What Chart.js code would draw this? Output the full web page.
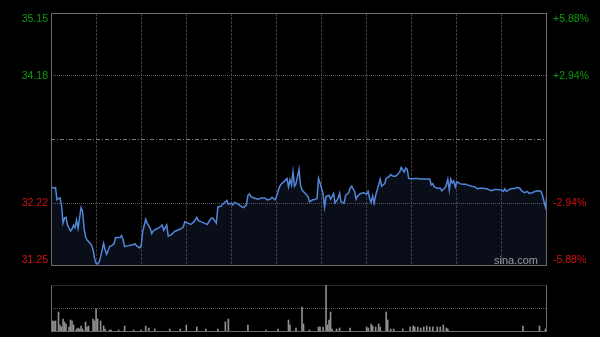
<!DOCTYPE html>
<html><head><meta charset="utf-8">
<script src="https://cdn.jsdelivr.net/npm/chart.js@4.4.1/dist/chart.umd.min.js"></script>
<style>
html,body{margin:0;padding:0;background:#000;width:600px;height:337px;overflow:hidden}
#wrapA{position:absolute;left:0;top:0;width:600px;height:272px}
#wrapB{position:absolute;left:0;top:280px;width:600px;height:57px}
</style></head><body>
<div id="wrapA"><canvas id="price"></canvas></div>
<div id="wrapB"><canvas id="vol"></canvas></div>
<script>
// ---- data (minutes since open, HK session 330 minutes) ----
const priceMinutes = [0,2,3,4,5,6,7,8,9,10,11,13,14,15,16,17,18,19,20,21,22,23,24,26,27,28,29,30,31,32,33,35,36,37,39,41,42,43,46,47,48,49,51,53,56,57,59,60,61,63,64,66,67,68,70,72,74,75,77,78,80,82,83,86,88,89,91,93,95,97,98,100,102,104,106,107,108,110,111,113,115,117,118,120,121,122,124,127,128,130,131,132,133,136,138,140,142,144,146,147,149,150,152,153,155,157,158,159,160,161,162,163,165,166,167,169,171,172,174,175,177,178,179,181,182,183,185,186,188,189,191,192,193,195,196,198,199,200,202,203,204,206,208,210,211,212,213,214,215,216,218,219,220,222,223,225,226,227,229,230,232,233,234,235,236,237,238,240,242,244,246,249,252,253,254,255,257,259,260,262,263,264,265,266,267,268,269,270,272,274,276,277,280,282,284,285,287,290,292,293,295,297,300,301,302,303,305,306,309,310,312,313,315,317,318,320,322,324,326,327,328,329,330];
const prices = [32.47,32.45,32.46,32.27,32.29,32.30,32.19,31.91,31.99,32.00,31.88,31.79,31.82,31.88,31.84,31.96,31.83,31.99,32.15,32.09,31.83,31.70,31.65,31.60,31.57,31.50,31.37,31.29,31.28,31.31,31.39,31.60,31.50,31.43,31.55,31.57,31.60,31.69,31.69,31.72,31.65,31.55,31.56,31.57,31.59,31.56,31.53,31.57,31.78,31.97,31.91,31.83,31.75,31.79,31.82,31.84,31.88,31.80,31.88,31.71,31.73,31.78,31.79,31.82,31.85,31.93,31.91,31.89,31.93,32.00,31.95,31.93,31.91,31.89,31.97,31.99,31.98,31.91,32.16,32.17,32.22,32.26,32.20,32.22,32.19,32.23,32.21,32.16,32.15,32.19,32.34,32.36,32.32,32.29,32.28,32.30,32.30,32.27,32.28,32.31,32.27,32.32,32.47,32.51,32.55,32.60,32.47,32.58,32.50,32.70,32.48,32.52,32.74,32.50,32.42,32.37,32.32,32.24,32.27,32.27,32.29,32.60,32.53,32.37,32.16,32.32,32.34,32.28,32.37,32.22,32.29,32.37,32.24,32.22,32.34,32.38,32.45,32.48,32.40,32.28,32.33,32.37,32.38,32.36,32.40,32.29,32.23,32.33,32.22,32.34,32.50,32.59,32.48,32.52,32.60,32.63,32.66,32.64,32.63,32.65,32.70,32.77,32.73,32.70,32.76,32.74,32.60,32.59,32.60,32.60,32.59,32.59,32.59,32.50,32.52,32.47,32.45,32.45,32.41,32.45,32.50,32.59,32.42,32.59,32.53,32.56,32.47,32.55,32.52,32.51,32.51,32.50,32.48,32.47,32.44,32.45,32.45,32.44,32.42,32.41,32.43,32.43,32.42,32.40,32.44,32.40,32.43,32.44,32.45,32.46,32.45,32.41,32.38,32.40,32.37,32.38,32.40,32.41,32.40,32.34,32.24,32.16,32.37];
const volMinutes = [1,2,3,5,6,7,8,9,10,12,13,14,15,17,18,19,20,21,23,24,25,28,29,30,31,33,35,36,39,40,45,49,55,60,63,65,69,79,86,90,97,103,111,116,118,131,143,151,158,159,163,167,168,172,178,179,181,183,184,185,186,187,190,192,199,210,211,213,214,216,218,219,223,224,226,228,234,239,241,242,244,246,248,250,252,254,257,259,261,263,264,314,325,329,330];
const volumes = [110,110,110,200,70,50,130,100,80,50,120,110,70,30,40,30,60,30,100,50,60,130,110,230,130,110,60,30,20,20,20,60,20,20,60,40,30,30,30,70,50,30,30,100,130,70,20,30,120,70,40,250,80,20,50,50,50,470,70,120,200,30,30,40,40,50,40,80,60,50,80,50,200,120,30,30,30,50,60,50,50,40,50,60,50,50,50,50,70,40,30,60,60,30,20];
const prevClose = 33.20;
const yMin = 31.25, yMax = 35.15;
const priceTicks = [35.15, 34.18, 33.20, 32.22, 31.25];
const leftLabels = ['35.15','34.18','','32.22','31.25'];
const rightLabels = ['+5.88%','+2.94%','','-2.94%','-5.88%'];
const totalMinutes = 330, gridStep = 30;

const GREEN = '#0a9a0a', RED = '#d01010';
const FONT = {family: 'Arial, "Liberation Sans", sans-serif', size: 10.5};

function setTicks(scale){
  // keep the outer labels inside the frame (6px inset), like the original
  const px = (yMax - yMin) / 253;
  scale.ticks = priceTicks.map((v,i) => ({value: i===0 ? v - 6*px : (i===priceTicks.length-1 ? v + 6*px : v)}));
}
const tickColor = ctx => ctx.index < 2 ? GREEN : RED;
const gridColor = ctx => (ctx.index === 1 || ctx.index === 3) ? '#5a5a5a' : 'rgba(0,0,0,0)';
function fitY(w){ return s => { s.width = w; s.paddingTop = 0; s.paddingBottom = 0; }; }

const framePlugin = {
  id: 'frame',
  beforeDatasetsDraw(chart){
    const {ctx, chartArea: a, scales} = chart;
    const y = Math.round(scales.y.getPixelForValue(prevClose)) + 0.5;
    ctx.save();
    ctx.strokeStyle = '#7a7a7a'; ctx.lineWidth = 1; ctx.setLineDash([4,2,1,2]);
    ctx.beginPath(); ctx.moveTo(a.left, y); ctx.lineTo(a.right, y); ctx.stroke();
    ctx.restore();
  },
  afterDraw(chart){
    const {ctx, chartArea: a} = chart;
    ctx.save();
    ctx.strokeStyle = '#6a6a6a'; ctx.lineWidth = 1;
    ctx.strokeRect(Math.round(a.left)+0.5, Math.round(a.top)+0.5, Math.round(a.right-a.left)-1, Math.round(a.bottom-a.top)-1);
    ctx.fillStyle = '#9a9a9a'; ctx.font = '11px Arial, "Liberation Sans", sans-serif';
    ctx.textAlign = 'right'; ctx.textBaseline = 'alphabetic';
    ctx.fillText('sina.com', a.right - 9, a.bottom - 2);
    ctx.restore();
  }
};

new Chart(document.getElementById('price'), {
  type: 'line',
  data: {datasets: [{
    data: priceMinutes.map((m,i) => ({x: m, y: prices[i]})),
    borderColor: '#5286d8', borderWidth: 1.5, pointRadius: 0, tension: 0,
    fill: 'start', backgroundColor: 'rgba(45,70,125,0.2)'
  }]},
  options: {
    responsive: true, maintainAspectRatio: false, animation: false,
    layout: {padding: {top: 13, bottom: 6, left: 0, right: 0}},
    plugins: {legend: {display: false}, tooltip: {enabled: false}},
    scales: {
      x: {type: 'linear', min: 0, max: totalMinutes,
          ticks: {display: false, stepSize: gridStep},
          afterBuildTicks: s => { const t=[]; for(let m=0;m<=totalMinutes;m+=gridStep) t.push({value:m}); s.ticks=t; },
          afterFit: s => { s.height = 0; s.paddingLeft = 0; s.paddingRight = 0; },
          grid: {drawTicks: false, color: ctx => (ctx.index===0||ctx.index===11)?'rgba(0,0,0,0)':'#3c3c3c', borderDash: [3,1]},
          border: {display: false, dash: [3,1]}},
      y: {type: 'linear', position: 'left', min: yMin, max: yMax,
          afterBuildTicks: setTicks, afterFit: fitY(51),
          ticks: {padding: 3, color: tickColor, font: FONT, callback: (v,i) => leftLabels[i]},
          grid: {drawTicks: false, color: gridColor, borderDash: [1,1]},
          border: {display: false, dash: [1,1]}},
      y2: {type: 'linear', position: 'right', min: yMin, max: yMax,
          afterBuildTicks: setTicks, afterFit: fitY(53),
          ticks: {padding: 6, color: tickColor, font: FONT, callback: (v,i) => rightLabels[i]},
          grid: {display: false, drawTicks: false, drawOnChartArea: false}, border: {display: false}}
    }
  },
  plugins: [framePlugin]
});

const volFrame = {
  id: 'volframe',
  afterDraw(chart){
    const {ctx, chartArea: a} = chart;
    const l = Math.round(a.left)+0.5, r = Math.round(a.right)-0.5, t = Math.round(a.top)+0.5, b = Math.round(a.bottom)-0.5;
    ctx.save();
    ctx.strokeStyle = '#6a6a6a'; ctx.lineWidth = 1;
    ctx.beginPath(); ctx.moveTo(l,t); ctx.lineTo(l,b); ctx.lineTo(r,b); ctx.lineTo(r,t); ctx.stroke();
    ctx.setLineDash([1,1]); ctx.strokeStyle = '#5a5a5a';
    ctx.beginPath(); ctx.moveTo(l,t); ctx.lineTo(r,t); ctx.stroke();
    ctx.restore();
  }
};
const volMax = Math.max(...volumes);
new Chart(document.getElementById('vol'), {
  type: 'bar',
  data: {datasets: [{
    data: volMinutes.map((m,i) => ({x: m, y: volumes[i]})),
    backgroundColor: '#8e8e8e', barThickness: 1, borderWidth: 0
  }]},
  options: {
    responsive: true, maintainAspectRatio: false, animation: false,
    layout: {padding: {top: 5, bottom: 5, left: 51, right: 53}},
    plugins: {legend: {display: false}, tooltip: {enabled: false}},
    scales: {
      x: {type: 'linear', min: 0, max: totalMinutes, display: false, offset: false},
      y: {min: 0, max: volMax,
          afterBuildTicks: s => { s.ticks = [{value:0},{value:volMax/2},{value:volMax}]; },
          afterFit: s => { s.width = 0; s.paddingTop = 0; s.paddingBottom = 0; },
          ticks: {display: false},
          grid: {drawTicks: false, color: ctx => ctx.index===1 ? '#5a5a5a' : 'rgba(0,0,0,0)', borderDash: [1,1]},
          border: {display: false, dash: [1,1]}}
    }
  },
  plugins: [volFrame]
});
</script>
</body></html>
